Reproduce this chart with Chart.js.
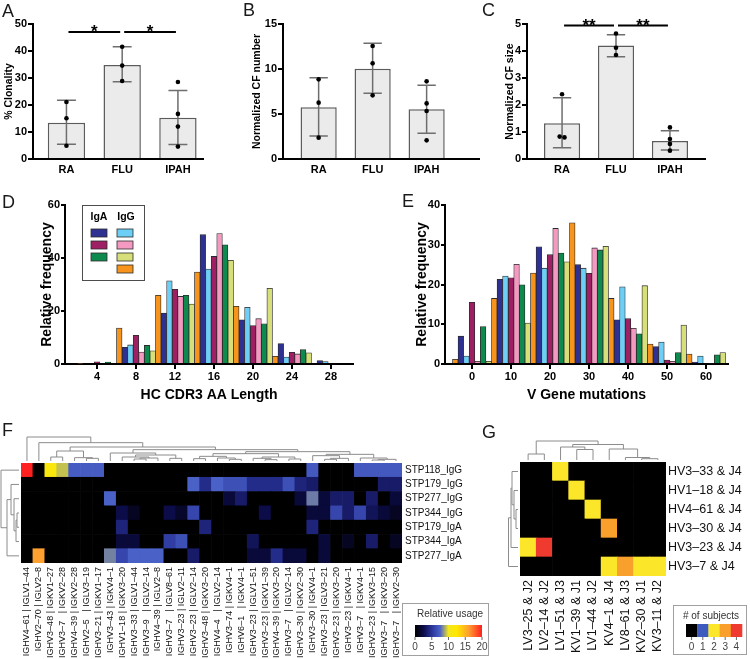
<!DOCTYPE html>
<html>
<head>
<meta charset="utf-8">
<title>Clonality and repertoire panels</title>
<script src="https://cdn.jsdelivr.net/npm/chart.js@4.4.1/dist/chart.umd.min.js"></script>
<style>
  body { margin: 0; background: #fff; font-family: "Liberation Sans", Arial, sans-serif; }
  #page { position: relative; width: 750px; height: 659px; overflow: hidden; background: #fff; }
  #page canvas, .tag { position: absolute; }
  .tag { font-size: 18px; line-height: 18px; color: #1a1a1a; }
</style>
</head>
<body>
<div id="page">
  <canvas id="chartA" width="240" height="190" style="left:0;top:0"></canvas>
  <canvas id="chartB" width="240" height="190" style="left:243px;top:0"></canvas>
  <canvas id="chartC" width="245" height="190" style="left:487px;top:0"></canvas>
  <canvas id="chartD" width="372" height="215" style="left:0;top:192px"></canvas>
  <canvas id="chartE" width="375" height="215" style="left:375px;top:192px"></canvas>
  <canvas id="chartF" width="495" height="244" style="left:0;top:415px"></canvas>
  <canvas id="chartG" width="250" height="244" style="left:500px;top:415px"></canvas>
  <div class="tag" style="left:2px;top:2px">A</div>
  <div class="tag" style="left:243px;top:1px">B</div>
  <div class="tag" style="left:482px;top:1px">C</div>
  <div class="tag" style="left:2px;top:193px">D</div>
  <div class="tag" style="left:402px;top:192px">E</div>
  <div class="tag" style="left:2px;top:421px">F</div>
  <div class="tag" style="left:482px;top:423px">G</div>
</div>
<script>
// ---------- panels A-C ----------
const GROUPS = ["RA", "FLU", "IPAH"];

const CLONALITY = [13.4, 34.8, 15.3];
const CLONALITY_LOW = [5.5, 28.6, 5.4];
const CLONALITY_HIGH = [21.8, 41.6, 25.4];
const CLONALITY_DOTS = [[21.1, 15.1, 4.9], [41.6, 34.6, 28.9], [28.5, 16.7, 12.0, 4.6]];
const CLONALITY_SIG = [[0, 1, "*"], [1, 2, "*"]];
const CLONALITY_SIG_AT = 47;

const CF_NUMBER = [5.74, 10.03, 5.52];
const CF_NUMBER_LOW = [2.56, 7.3, 2.85];
const CF_NUMBER_HIGH = [9.03, 12.85, 8.2];
const CF_NUMBER_DOTS = [[8.85, 6.26, 2.37], [12.55, 10.63, 7.07], [8.63, 6.18, 5.33, 2.07]];

const CF_SIZE = [1.32, 4.2, 0.67];
const CF_SIZE_LOW = [0.42, 3.79, 0.33];
const CF_SIZE_HIGH = [2.27, 4.6, 1.05];
const CF_SIZE_DOTS = [[2.4, 0.83, 0.8], [4.65, 4.12, 3.85], [1.17, 0.74, 0.56, 0.31]];
const CF_SIZE_SIG = [[0, 1, "**"], [1, 2, "**"]];
const CF_SIZE_SIG_AT = 4.94;

// ---------- panels D-E (bars left to right inside each bin) ----------
const SERIES = ["IgG 4", "IgA 1", "IgG 1", "IgA 2", "IgG 2", "IgA 3", "IgG 3"];
const IGA_SERIES = [1, 3, 5];
const IGG_SERIES = [2, 4, 6, 0];

const CDR3_BINS = [4, 8, 12, 16, 20, 24, 28];
const CDR3_IGG4 = [0.3, 13.6, 25.9, 34.7, 21.8, 2.9, 0];
const CDR3_IGA1 = [0, 6.3, 19.2, 48.8, 16.7, 7.7, 1.3];
const CDR3_IGG1 = [0, 7.2, 31.4, 35.8, 21.4, 2.6, 0.9];
const CDR3_IGA2 = [0.8, 10.8, 28.2, 40.6, 14.5, 4.4, 0];
const CDR3_IGG2 = [0, 4.5, 25.5, 49.2, 17.1, 3.8, 0];
const CDR3_IGA3 = [0.7, 7.0, 25.9, 45.0, 15.2, 5.4, 0];
const CDR3_IGG3 = [0, 5.0, 22.6, 39.1, 28.6, 4.2, 0];
const CDR3_TICKS = [4, 8, 12, 16, 20, 24, 28];

const MUT_BINS = [0, 10, 20, 30, 40, 50, 60];
const MUT_IGG4 = [1.2, 16.5, 22.9, 35.5, 16.5, 5.0, 2.5];
const MUT_IGA1 = [7.0, 21.3, 29.5, 25.0, 11.1, 4.4, 0.5];
const MUT_IGG1 = [2.0, 22.1, 24.1, 24.1, 19.4, 5.5, 2.0];
const MUT_IGA2 = [15.5, 21.7, 27.5, 22.8, 11.4, 1.0, 0];
const MUT_IGG2 = [0.7, 25.1, 34.1, 29.2, 9.0, 0.7, 0.25];
const MUT_IGA3 = [9.4, 19.9, 27.9, 28.7, 7.6, 2.9, 2.3];
const MUT_IGG3 = [0.7, 10.3, 25.7, 29.6, 19.7, 9.8, 2.9];
const MUT_TICKS = [0, 10, 20, 30, 40, 50, 60];

// ---------- panel F ----------
const F_COLS = [
  "IGHV4–61 | IGLV1–44", "IGHV2–70 | IGLV2–8", "IGHV3–48 | IGKV1–27", "IGHV3–7   | IGKV2–28",
  "IGHV4–39 | IGKV2–28", "IGHV2–5   | IGLV3–19", "IGHV3–21 | IGKV1–17", "IGHV3–43 | IGKV4–1",
  "IGHV1–18 | IGKV3–20", "IGHV3–33 | IGLV1–44", "IGHV3–9   | IGLV2–14", "IGHV4–39 | IGLV2–8",
  "IGHV3–7   | IGLV8–61", "IGHV3–23 | IGLV2–11", "IGHV3–23 | IGLV2–14", "IGHV3–48 | IGKV3–20",
  "IGHV4–4   | IGLV2–14", "IGHV3–74 | IGKV4–1", "IGHV6–1   | IGKV4–1", "IGHV3–23 | IGLV1–51",
  "IGHV3–23 | IGKV1–39", "IGHV4–39 | IGKV3–20", "IGHV3–7   | IGLV2–14", "IGHV3–30 | IGKV2–30",
  "IGHV3–30 | IGKV4–1", "IGHV3–23 | IGLV3–21", "IGHV3–23 | IGKV3–20", "IGHV3–23 | IGKV4–1",
  "IGHV3–7   | IGKV4–1", "IGHV3–23 | IGKV3–15", "IGHV3–7   | IGKV3–20", "IGHV3–7   | IGKV2–30"
];
const F_ROWS = ["STP118_IgG", "STP179_IgG", "STP277_IgG", "STP344_IgG", "STP179_IgA", "STP344_IgA", "STP277_IgA"];
const USAGE_STP118_IGG = [20, 0, 11.5, 9.3, 7.2, 7.2, 7.2, 0, 0, 0, 0, 0, 0, 0, 0, 0, 0, 0, 0, 0, 0, 0, 0, 0, 7, 0, 0, 0, 7, 7, 7, 7];
const USAGE_STP179_IGG = [0, 0, 0, 0, 0, 0, 0, 0, 0, 0, 0, 0, 0, 0, 7.5, 4.5, 7.5, 6.5, 6.5, 4.5, 4.5, 4.5, 6.5, 4, 3.5, 0, 0, 0, 0, 0, 3.5, 3.5];
const USAGE_STP277_IGG = [0, 0, 0, 0, 0, 0, 0, 7.5, 0, 0, 0, 0, 0, 0, 0, 0, 0, 2, 3.5, 0, 0, 0, 0, 2, 8, 2, 3.5, 3.5, 0, 3.5, 0, 2];
const USAGE_STP344_IGG = [0, 0, 0, 0, 0, 0, 0, 0, 2.5, 1.2, 0, 0, 2.5, 1.5, 6, 0, 0, 0, 0, 0, 2.5, 0, 0, 0, 2, 2, 6, 3.5, 6, 3, 2, 1.2];
const USAGE_STP179_IGA = [0, 0, 0, 0, 0, 0, 0, 0, 4, 0, 0, 0, 0, 0, 0, 4, 0, 0, 0, 0, 0, 0, 0, 0, 4, 0, 0, 0, 0, 0, 0, 0];
const USAGE_STP344_IGA = [0, 0, 0, 0, 0, 0, 0, 0, 2, 2, 0, 0, 5.5, 6.5, 0, 0, 0, 0, 0, 3, 0, 0, 0, 0, 0, 2, 0, 1.2, 0, 3.5, 0, 1.2];
const USAGE_STP277_IGA = [0, 16, 0, 0, 0, 0, 0, 8.1, 6, 7.5, 7.5, 7.5, 0, 0, 3.5, 0, 0, 0, 0, 2, 2, 4.5, 2, 2, 0, 2, 0, 0, 0, 0, 0, 0];
const USAGE_TICKS = [0, 5, 10, 15, 20];
// dendrograms: [node a, node b, merge height]; leaves are 0..n-1, merge k creates node n+k
const F_COL_TREE = [
  [5, 6, 8], [4, 32, 10], [2, 3, 12], [34, 33, 30],
  [9, 10, 6], [36, 11, 9], [8, 37, 12], [12, 13, 8], [38, 39, 18], [7, 40, 24],
  [17, 18, 5], [16, 42, 9], [14, 15, 7], [44, 43, 14],
  [20, 21, 4], [19, 46, 8], [22, 23, 6], [47, 48, 12], [45, 49, 22],
  [25, 26, 5], [51, 27, 8], [24, 52, 16], [29, 30, 3], [54, 31, 5], [28, 55, 9],
  [53, 56, 20], [50, 57, 28], [41, 58, 34], [35, 59, 42], [1, 60, 55], [0, 61, 72]
];
const F_ROW_TREE = [[3, 4, 2], [7, 5, 3], [2, 8, 5], [1, 9, 8], [10, 6, 12], [0, 11, 18]];

// ---------- panel G ----------
const G_COLS = ["LV3–25 & J2", "LV2–14 & J2", "LV1–51 & J3", "KV1–39 & J1", "LV1–44 & J2", "KV4–1 & J4", "LV8–61 & J3", "KV2–30 & J1", "KV3–11 & J2"];
const G_ROWS = ["HV3–33 & J4", "HV1–18 & J4", "HV4–61 & J4", "HV3–30 & J4", "HV3–23 & J4", "HV3–7 & J4"];
const SUBJ_HV3_33 = [0, 0, 2, 0, 0, 0, 0, 0, 0];
const SUBJ_HV1_18 = [0, 0, 0, 2, 0, 0, 0, 0, 0];
const SUBJ_HV4_61 = [0, 0, 0, 0, 2, 0, 0, 0, 0];
const SUBJ_HV3_30 = [0, 0, 0, 0, 0, 3, 0, 0, 0];
const SUBJ_HV3_23 = [2, 4, 0, 0, 0, 0, 0, 0, 0];
const SUBJ_HV3_7 = [0, 0, 0, 0, 0, 2, 3, 2, 2];
const SUBJ_TICKS = [0, 1, 2, 3, 4];
const G_COL_TREE = [[7, 8, 1.3], [6, 9, 2.5], [5, 10, 11], [3, 4, 10.5], [2, 12, 13], [13, 11, 15.5], [0, 1, 6], [15, 14, 19]];
const G_ROW_TREE = [[2, 3, 2], [1, 6, 4], [0, 7, 6], [8, 4, 7], [9, 5, 9.5]];

// ---------- styles ----------
const SANS = "'Liberation Sans', Arial, Helvetica, sans-serif";
const bold = (size) => ({ family: SANS, size, weight: "bold" });
const SERIES_COLORS = ["#f7941d", "#2e3192", "#6dcff6", "#9e1f63", "#f49ac1", "#0f8a4f", "#d7df7a"];
const USAGE_MAX = 20;
const USAGE_STOPS = [[0, "#000000"], [2.5, "#0c0c48"], [5, "#2a3499"], [7.5, "#4a62c8"], [10, "#f2e620"], [12.5, "#ffe800"], [16, "#ffa030"], [20, "#ff2020"]];
const SUBJ_COLORS = ["#000000", "#3d5bbf", "#fbe629", "#f8a02b", "#ef3b2f"];

Chart.defaults.animation = false;
Chart.defaults.font.family = SANS;
Chart.defaults.color = "#000";
Chart.defaults.plugins.legend.display = false;
Chart.defaults.plugins.tooltip.enabled = false;

function hexRgb(h) {
  return [1, 3, 5].map(i => parseInt(h.slice(i, i + 2), 16));
}

function usageColor(v) {
  for (let i = 1; i < USAGE_STOPS.length; i++) {
    if (v <= USAGE_STOPS[i][0] || i === USAGE_STOPS.length - 1) {
      const [v0, c0] = USAGE_STOPS[i - 1];
      const [v1, c1] = USAGE_STOPS[i];
      const t = Math.max(0, Math.min(1, (v - v0) / (v1 - v0)));
      const a = hexRgb(c0), b = hexRgb(c1);
      return "rgb(" + a.map((x, k) => Math.round(x + (b[k] - x) * t)).join(",") + ")";
    }
  }
}

// bar + sd + dots panels
function groupChart(id, p) {
  const dots = [];
  p.dots.forEach((vals, g) => vals.forEach((v, k) => {
    const twin = vals.findIndex((w, j) => j !== k && Math.abs(w - v) < p.yMax * 0.012);
    dots.push({ x: g + (twin < 0 ? 0 : (k < twin ? -0.045 : 0.045)), y: v });
  }));

  const errorBars = {
    id: "errorBars",
    afterDatasetDraw(chart, args) {
      if (args.meta.type !== "bar") return;
      const { ctx, scales: { x, y } } = chart;
      const cap = (x.getPixelForValue(1) - x.getPixelForValue(0)) * 0.17;
      ctx.save();
      ctx.strokeStyle = "#6e6e6e";
      ctx.lineWidth = 1.5;
      p.means.forEach((_, i) => {
        const cx = x.getPixelForValue(i);
        const lo = y.getPixelForValue(p.low[i]);
        const hi = y.getPixelForValue(p.high[i]);
        ctx.beginPath();
        ctx.moveTo(cx, lo); ctx.lineTo(cx, hi);
        ctx.moveTo(cx - cap, lo); ctx.lineTo(cx + cap, lo);
        ctx.moveTo(cx - cap, hi); ctx.lineTo(cx + cap, hi);
        ctx.stroke();
      });
      ctx.restore();
    }
  };

  const sigBars = {
    id: "sigBars",
    afterDraw(chart) {
      if (!p.sig) return;
      const { ctx, scales: { x, y } } = chart;
      const ly = y.getPixelForValue(p.sigAt);
      ctx.save();
      ctx.strokeStyle = "#000";
      ctx.fillStyle = "#000";
      ctx.lineWidth = 2;
      ctx.font = "bold 17px " + SANS;
      ctx.textAlign = "center";
      ctx.textBaseline = "alphabetic";
      p.sig.forEach(([a, b, mark]) => {
        const x0 = x.getPixelForValue(a) + 2, x1 = x.getPixelForValue(b) - 2;
        ctx.beginPath();
        ctx.moveTo(x0, ly); ctx.lineTo(x1, ly);
        ctx.stroke();
        ctx.fillText(mark, (x0 + x1) / 2, ly + 5);
      });
      ctx.restore();
    }
  };

  new Chart(document.getElementById(id), {
    type: "bar",
    data: {
      datasets: [
        {
          type: "bar",
          data: p.means.map((y, i) => ({ x: i, y })),
          backgroundColor: "#ebebeb",
          borderColor: "#5c5c5c",
          borderWidth: 1.5,
          barPercentage: 0.67,
          categoryPercentage: 1,
          order: 2
        },
        {
          type: "scatter",
          data: dots,
          pointRadius: 2.3,
          pointBackgroundColor: "#000",
          pointBorderWidth: 0,
          order: 1
        }
      ]
    },
    options: {
      responsive: false,
      layout: { padding: { left: 0, top: 24, right: p.padRight, bottom: 0 } },
      scales: {
        x: {
          type: "linear",
          min: p.xMin,
          max: p.xMax,
          offset: false,
          afterBuildTicks: (s) => { s.ticks = GROUPS.map((_, i) => ({ value: i })); },
          afterFit: (s) => { s.height = 31; },
          grid: { display: false, drawTicks: false, offset: false },
          border: { color: "#000", width: 2 },
          ticks: { font: bold(11), color: "#000", padding: 4, callback: (v) => GROUPS[v] }
        },
        y: {
          min: 0,
          max: p.yMax,
          afterFit: (s) => { s.width = p.axisWidth; },
          ticks: { stepSize: p.yStep, font: bold(11), color: "#000", padding: 1 },
          grid: { drawOnChartArea: false, tickLength: 5, color: "#000", lineWidth: 2 },
          border: { color: "#000", width: 2 },
          title: { display: true, text: p.title, font: bold(10.5), color: "#000", padding: { top: p.titlePad, bottom: 0 } }
        }
      }
    },
    plugins: [errorBars, sigBars]
  });
}

groupChart("chartA", {
  means: CLONALITY, low: CLONALITY_LOW, high: CLONALITY_HIGH, dots: CLONALITY_DOTS,
  sig: CLONALITY_SIG, sigAt: CLONALITY_SIG_AT,
  yMax: 50, yStep: 10, xMin: -0.6, xMax: 2.45, padRight: 37, axisWidth: 33, titlePad: 2.7,
  title: "% Clonality"
});
groupChart("chartB", {
  means: CF_NUMBER, low: CF_NUMBER_LOW, high: CF_NUMBER_HIGH, dots: CF_NUMBER_DOTS,
  yMax: 15, yStep: 5, xMin: -0.66, xMax: 2.97, padRight: 3, axisWidth: 40, titlePad: 7.7,
  title: "Normalized CF number"
});
groupChart("chartC", {
  means: CF_SIZE, low: CF_SIZE_LOW, high: CF_SIZE_HIGH, dots: CF_SIZE_DOTS,
  sig: CF_SIZE_SIG, sigAt: CF_SIZE_SIG_AT,
  yMax: 5, yStep: 1, xMin: -0.65, xMax: 2.65, padRight: 27, axisWidth: 40, titlePad: 16.7,
  title: "Normalized CF size"
});

// grouped histograms
const cdr3Legend = {
  id: "cdr3Legend",
  afterDraw(chart) {
    const { ctx, chartArea: ca } = chart;
    const bx = ca.left + 17, by = ca.top;
    ctx.save();
    ctx.strokeStyle = "#4d4d4d";
    ctx.lineWidth = 1;
    ctx.strokeRect(bx + 0.5, by + 0.5, 62, 75);
    ctx.fillStyle = "#000";
    ctx.font = "bold 10.5px " + SANS;
    ctx.textAlign = "center";
    ctx.textBaseline = "middle";
    ctx.fillText("IgA", bx + 17, by + 12);
    ctx.fillText("IgG", bx + 44, by + 12);
    [[IGA_SERIES, bx + 9], [IGG_SERIES, bx + 35]].forEach(([list, sx]) => list.forEach((s, k) => {
      ctx.fillStyle = SERIES_COLORS[s];
      ctx.fillRect(sx, by + 24 + k * 12, 16, 8);
      ctx.strokeStyle = "#2b2b2b";
      ctx.lineWidth = 0.8;
      ctx.strokeRect(sx, by + 24 + k * 12, 16, 8);
    }));
    ctx.restore();
  }
};

function histChart(id, p) {
  new Chart(document.getElementById(id), {
    type: "bar",
    data: {
      datasets: SERIES.map((name, s) => ({
        label: name,
        data: p.bins.map((b, i) => ({ x: b, y: p.values[s][i] })),
        backgroundColor: SERIES_COLORS[s],
        borderColor: "#2b2b2b",
        borderWidth: 0.8,
        barPercentage: 1,
        categoryPercentage: 1
      }))
    },
    options: {
      responsive: false,
      layout: { padding: { left: 0, top: 13, right: p.padRight, bottom: 0 } },
      scales: {
        x: {
          type: "linear",
          min: p.xMin,
          max: p.xMax,
          offset: false,
          afterBuildTicks: (s) => { s.ticks = p.ticks.map((v) => ({ value: v })); },
          afterFit: (s) => { s.height = 43; },
          grid: { drawOnChartArea: false, offset: false, tickLength: 5, color: "#000", lineWidth: 2 },
          border: { color: "#000", width: 2 },
          ticks: { font: bold(11), color: "#000", padding: 1 },
          title: { display: true, text: p.xTitle, font: bold(14), color: "#000", padding: { top: 0, bottom: 3.6 } }
        },
        y: {
          min: 0,
          max: p.yMax,
          afterFit: (s) => { s.width = p.axisWidth; },
          ticks: { stepSize: p.yStep, font: bold(11), color: "#000", padding: 1 },
          grid: { drawOnChartArea: false, tickLength: 4, color: "#000", lineWidth: 2 },
          border: { color: "#000", width: 2 },
          title: { display: true, text: "Relative frequency", font: bold(14), color: "#000", padding: { top: 38.6, bottom: 0 } }
        }
      }
    },
    plugins: p.legend ? [cdr3Legend] : []
  });
}

histChart("chartD", {
  bins: CDR3_BINS, ticks: CDR3_TICKS,
  values: [CDR3_IGG4, CDR3_IGA1, CDR3_IGG1, CDR3_IGA2, CDR3_IGG2, CDR3_IGA3, CDR3_IGG3],
  xMin: 0.72, xMax: 30.26, yMax: 60, yStep: 20, padRight: 19, axisWidth: 65,
  xTitle: "HC CDR3 AA Length", legend: true
});
histChart("chartE", {
  bins: MUT_BINS, ticks: MUT_TICKS,
  values: [MUT_IGG4, MUT_IGA1, MUT_IGG1, MUT_IGA2, MUT_IGG2, MUT_IGA3, MUT_IGG3],
  xMin: -6.92, xMax: 65.64, yMax: 40, yStep: 10, padRight: 22, axisWidth: 70,
  xTitle: "V Gene mutations", legend: false
});

// heatmaps with dendrograms
function drawTree(ctx, merges, leafPos, edge, unit, above) {
  const pos = leafPos.slice();
  const hgt = leafPos.map(() => 0);
  const pt = (q, h) => above ? [q, edge - 2 - h * unit] : [edge - 2 - h * unit, q];
  ctx.beginPath();
  merges.forEach(([a, b, h]) => {
    [a, b].forEach((n) => {
      ctx.moveTo(...pt(pos[n], hgt[n]));
      ctx.lineTo(...pt(pos[n], h));
    });
    ctx.moveTo(...pt(pos[a], h));
    ctx.lineTo(...pt(pos[b], h));
    pos.push((pos[a] + pos[b]) / 2);
    hgt.push(h);
  });
  ctx.stroke();
}

function heatmap(id, p) {
  const decor = {
    id: "heatDecor",
    afterDraw(chart) {
      const { ctx, chartArea: ca, scales: { x, y } } = chart;
      ctx.save();
      ctx.strokeStyle = "#8c8c8c";
      ctx.lineWidth = 1;
      drawTree(ctx, p.colTree, p.cols.map((_, i) => x.getPixelForValue(i)), ca.top, p.colUnit, true);
      drawTree(ctx, p.rowTree, p.rows.map((_, r) => y.getPixelForValue(p.rows.length - 0.5 - r)), ca.left, p.rowUnit, false);
      p.legend(ctx);
      ctx.restore();
    }
  };

  new Chart(document.getElementById(id), {
    type: "bar",
    data: {
      labels: p.cols,
      datasets: p.matrix.map((vals, r) => ({
        label: p.rows[r],
        data: vals.map(() => 1),
        backgroundColor: vals.map(p.color),
        borderWidth: 0,
        barPercentage: 1,
        categoryPercentage: 1
      })).reverse()
    },
    options: {
      responsive: false,
      layout: { padding: { left: p.left, top: p.top, right: 0, bottom: 0 } },
      scales: {
        x: {
          stacked: true,
          grid: { display: false, drawTicks: false },
          border: { display: false },
          afterFit: (s) => { s.height = p.xHeight; },
          ticks: { autoSkip: false, minRotation: 90, maxRotation: 90, font: p.colFont, color: "#111", padding: p.colPad }
        },
        y: {
          stacked: true,
          position: "right",
          min: 0,
          max: p.rows.length,
          grid: { display: false, drawTicks: false },
          border: { display: false },
          afterFit: (s) => { s.width = p.yWidth; },
          afterBuildTicks: (s) => { s.ticks = p.rows.map((_, i) => ({ value: p.rows.length - 0.5 - i })); },
          ticks: { autoSkip: false, font: p.rowFont, color: "#111", padding: p.rowPad, callback: (v, i) => p.rows[i] }
        }
      }
    },
    plugins: [decor]
  });
}

function legendFrame(ctx, x0, y0, w, h, title, tx, ty) {
  ctx.strokeStyle = "#a0a0a0";
  ctx.lineWidth = 1;
  ctx.strokeRect(x0 + 0.5, y0 + 0.5, w, h);
  ctx.fillStyle = "#333";
  ctx.font = "10px " + SANS;
  ctx.textAlign = "center";
  ctx.textBaseline = "middle";
  ctx.fillText(title, tx, ty);
}

function usageLegend(ctx) {
  legendFrame(ctx, 402, 188, 86, 52, "Relative usage", 450, 199);
  const gx = 415, gy = 210, gw = 67, gh = 12;
  const grad = ctx.createLinearGradient(gx, 0, gx + gw, 0);
  USAGE_STOPS.forEach(([v, c]) => grad.addColorStop(v / USAGE_MAX, c));
  ctx.fillStyle = grad;
  ctx.fillRect(gx, gy, gw, gh);
  ctx.strokeStyle = "#666";
  ctx.fillStyle = "#444";
  USAGE_TICKS.forEach((v) => {
    const tx = gx + (v / USAGE_MAX) * gw;
    ctx.beginPath();
    ctx.moveTo(tx, gy + gh); ctx.lineTo(tx, gy + gh + 3);
    ctx.stroke();
    ctx.fillText(String(v), tx, gy + gh + 10);
  });
}

function subjectLegend(ctx) {
  legendFrame(ctx, 173, 190, 73, 49, "# of subjects", 211, 201);
  const gx = 186, gy = 209, bw = 11.2, gh = 13;
  ctx.strokeStyle = "#666";
  SUBJ_TICKS.forEach((v, i) => {
    ctx.fillStyle = SUBJ_COLORS[v];
    ctx.fillRect(gx + i * bw, gy, bw + 0.3, gh);
    const tx = gx + (i + 0.5) * bw;
    ctx.beginPath();
    ctx.moveTo(tx, gy + gh); ctx.lineTo(tx, gy + gh + 3);
    ctx.stroke();
    ctx.fillStyle = "#444";
    ctx.fillText(String(v), tx, gy + gh + 10);
  });
}

const NARROW = (() => {
  const c = document.createElement("canvas").getContext("2d");
  const s = F_COLS[0];
  c.font = "11px 'Liberation Sans Narrow'";
  const a = c.measureText(s).width;
  c.font = "11px " + SANS;
  const b = c.measureText(s).width;
  return a < b * 0.9;
})();

heatmap("chartF", {
  cols: F_COLS, rows: F_ROWS,
  matrix: [USAGE_STP118_IGG, USAGE_STP179_IGG, USAGE_STP277_IGG, USAGE_STP344_IGG, USAGE_STP179_IGA, USAGE_STP344_IGA, USAGE_STP277_IGA],
  color: usageColor,
  colTree: F_COL_TREE, colUnit: 1 / 3, rowTree: F_ROW_TREE, rowUnit: 1,
  left: 21, top: 48, xHeight: 96, yWidth: 93,
  colFont: NARROW ? { family: "'Liberation Sans Narrow'", size: 11 } : { family: SANS, size: 9 },
  colPad: 4, rowFont: { family: SANS, size: 10 }, rowPad: 3,
  legend: usageLegend
});

heatmap("chartG", {
  cols: G_COLS, rows: G_ROWS,
  matrix: [SUBJ_HV3_33, SUBJ_HV1_18, SUBJ_HV4_61, SUBJ_HV3_30, SUBJ_HV3_23, SUBJ_HV3_7],
  color: (v) => SUBJ_COLORS[v],
  colTree: G_COL_TREE, colUnit: 1, rowTree: G_ROW_TREE, rowUnit: 1,
  left: 20, top: 47, xHeight: 83, yWidth: 84,
  colFont: { family: SANS, size: 12.5 }, colPad: 4,
  rowFont: { family: SANS, size: 12.5 }, rowPad: 2,
  legend: subjectLegend
});
</script>
</body>
</html>
